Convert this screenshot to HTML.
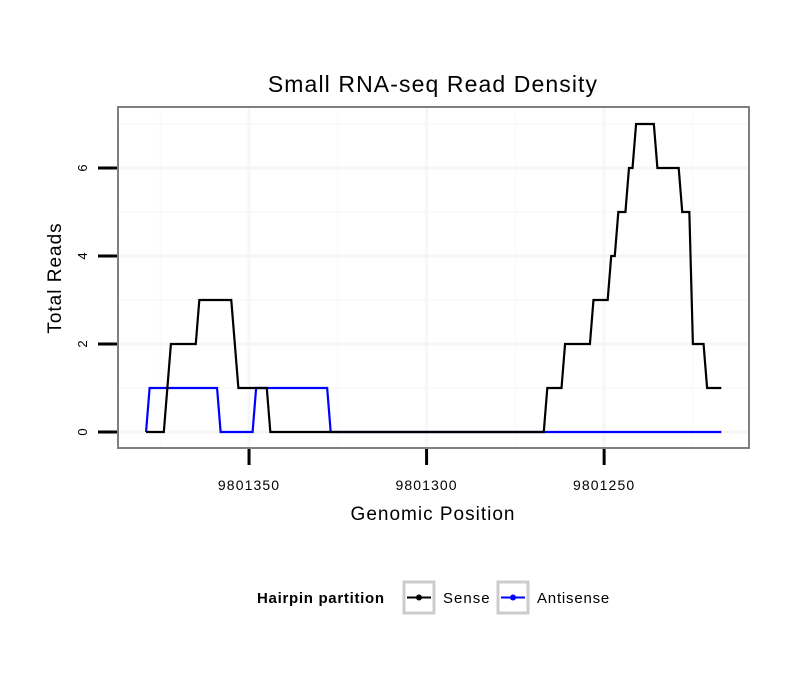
<!DOCTYPE html>
<html><head><meta charset="utf-8"><style>
html,body{margin:0;padding:0;background:#fff;}
svg{display:block;font-family:"Liberation Sans",sans-serif;}
</style></head><body>
<svg id="chart" width="810" height="690" viewBox="0 0 810 690">
<text x="433" y="92" text-anchor="middle" font-size="23" letter-spacing="1.1">Small RNA-seq Read Density</text>
<g id="grid"></g>
<g id="series"></g>
<rect x="118" y="107" width="631" height="341" fill="none" stroke="#7f7f7f" stroke-width="2"/>
<g id="axes"></g>
<text x="433" y="520" text-anchor="middle" font-size="19" letter-spacing="1">Genomic Position</text>
<text transform="translate(61,278) rotate(-90)" text-anchor="middle" font-size="19" letter-spacing="1">Total Reads</text>
<g>
<text x="257" y="603" font-size="15" font-weight="bold" letter-spacing="0.7">Hairpin partition</text>
<g>
<rect x="404" y="582" width="30" height="31" fill="#fff" stroke="#ccc" stroke-width="3"/>
<line x1="407" y1="597.5" x2="431" y2="597.5" stroke="#000" stroke-width="2"/>
<circle cx="419" cy="597.5" r="3" fill="#000"/>
<text x="443" y="603" font-size="15" letter-spacing="1">Sense</text>
</g>
<g>
<rect x="498" y="582" width="30" height="31" fill="#fff" stroke="#ccc" stroke-width="3"/>
<line x1="501" y1="597.5" x2="525" y2="597.5" stroke="#0000ff" stroke-width="2"/>
<circle cx="513" cy="597.5" r="3" fill="#0000ff"/>
<text x="537" y="603" font-size="15" letter-spacing="0.8">Antisense</text>
</g>
</g>
</svg>
<script>
const senseOffsets = [-29,-24,-22,-15,-14,-5,-3,5,6,83,84,88,89,96,97,101,102,103,104,106,107,108,109,114,115,121,122,124,125,128,129,133];
const senseValues  = [0,0,2,2,3,3,1,1,0,0,1,1,2,2,3,3,4,4,5,5,6,6,7,7,6,6,5,5,2,2,1,1];
const antiOffsets = [-29,-28,-9,-8,1,2,22,23,133];
const antiValues  = [0,1,1,0,0,1,1,0,0];
const basePos = 9801350;
const xTicks = [9801350,9801300,9801250];
const yTicks = [0,2,4,6];
const NS='http://www.w3.org/2000/svg';
const xDom=[9801386.9,9801209.2], xRng=[118,749];
const yDom=[0,7.386], yRng=[432,107];
function xs(p){return xRng[0]+(p-xDom[0])/(xDom[1]-xDom[0])*(xRng[1]-xRng[0]);}
function ys(v){return yRng[0]+(v-yDom[0])/(yDom[1]-yDom[0])*(yRng[1]-yRng[0]);}
function mk(tag,attrs,parent){const e=document.createElementNS(NS,tag);for(const k in attrs)e.setAttribute(k,attrs[k]);parent.appendChild(e);return e;}
const grid=document.getElementById('grid'),axes=document.getElementById('axes'),series=document.getElementById('series');
for(let i=0;i<xTicks.length+1;i++){const p=xTicks[0]+25-50*i;const x=xs(p);if(x>118&&x<749){const l=mk('line',{x1:x,x2:x,y1:107,y2:448,stroke:'#fbfbfb','stroke-width':1.5},grid);

}}
for(let v=-1;v<=7;v+=2){const y=ys(v);if(y>107&&y<448){const l=mk('line',{x1:118,x2:749,y1:y,y2:y,stroke:'#f8f8f8','stroke-width':1.5},grid);

}}
xTicks.forEach(t=>{const x=xs(t);
const g=mk('line',{x1:x,x2:x,y1:107,y2:448,stroke:'#f7f7f7','stroke-width':3},grid);


const tk=mk('line',{x1:x,x2:x,y1:449,y2:465,stroke:'#000','stroke-width':3},axes);


const lb=mk('text',{x:x,y:490,'text-anchor':'middle','font-size':14,'letter-spacing':1.1},axes);lb.textContent=t;

});
yTicks.forEach(t=>{const y=ys(t);
const g=mk('line',{x1:118,x2:749,y1:y,y2:y,stroke:'#f5f5f5','stroke-width':3},grid);


const tk=mk('line',{x1:98,x2:117,y1:y,y2:y,stroke:'#000','stroke-width':3},axes);


const lb=mk('text',{transform:`translate(87,${y}) rotate(-90)`,'text-anchor':'middle','font-size':13},axes);lb.textContent=t;

});
function path(offs,vals,color,name){const d=offs.map((o,i)=>(i?'L':'M')+xs(basePos-o).toFixed(2)+','+ys(vals[i]).toFixed(2)).join('');
const p=mk('path',{d:d,fill:'none',stroke:color,'stroke-width':2.2,'stroke-linejoin':'miter'},series);

}
path(antiOffsets,antiValues,'#0000ff','antisense-line');
path(senseOffsets,senseValues,'#000000','sense-line');
</script>
</body></html>
